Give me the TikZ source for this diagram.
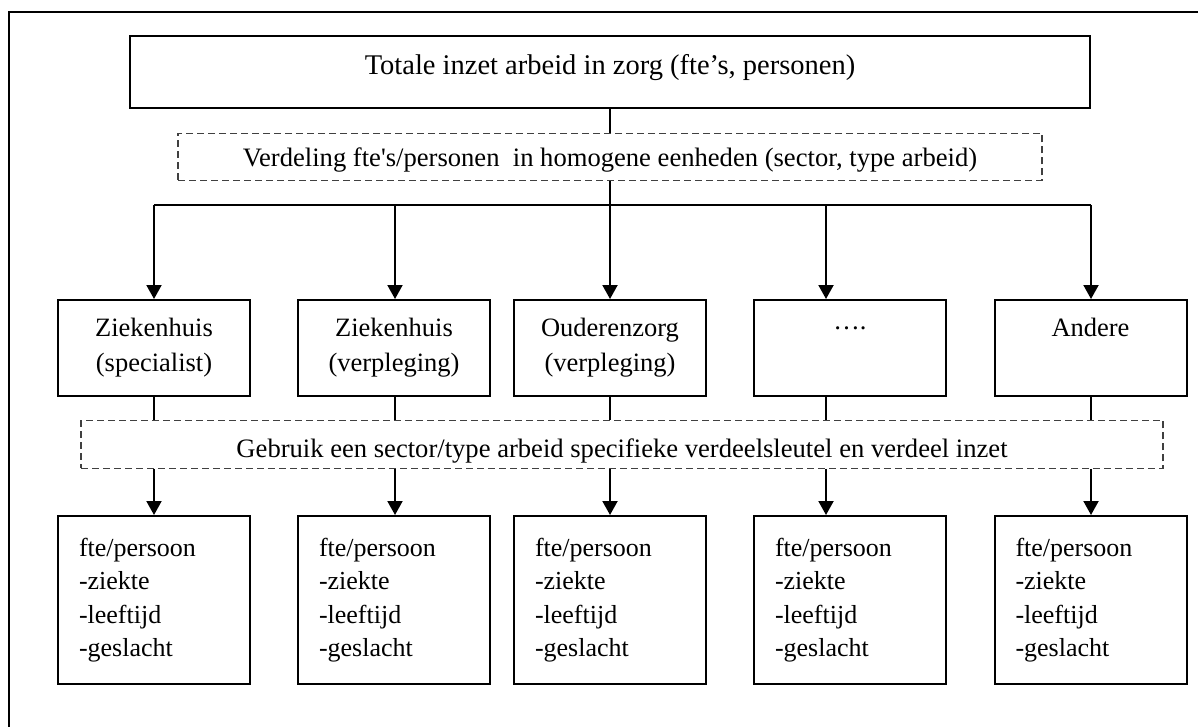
\documentclass[tikz,border=0pt]{standalone}
\usepackage{fontspec}
\setmainfont{Liberation Serif}
\usetikzlibrary{arrows.meta}
\begin{document}
\begin{tikzpicture}[x=1pt,y=-1pt,
  box/.style={draw, line width=2pt, inner sep=0pt, align=center},
  dbox/.style={draw=black!75, line width=1.3pt, dash pattern=on 7pt off 4pt, inner sep=0pt},
  arr/.style={line width=2pt, -{Triangle[width=15pt,length=14pt]}},
  conn/.style={line width=2pt},
  bar/.style={line width=2.5pt},
  midbox/.style={box, minimum width=192pt, minimum height=96pt, font=\fontsize{26.5}{35}\selectfont},
  lowbox/.style={box, minimum width=192pt, minimum height=168pt, font=\fontsize{26}{33.3}\selectfont, align=left, text width=150pt},
  frame/.style={line width=2pt}
]
\useasboundingbox (0,0) rectangle (1198,727);
% outer frame (cut by the page edges)
\draw[frame] (9,727) -- (9,12) -- (1198,12);

% top box and first dashed box
\node[box, minimum width=960pt, minimum height=72pt, font=\fontsize{28.5}{34}\selectfont] (top) at (610,72)
  {\raisebox{-3pt}[0pt][0pt]{Totale inzet arbeid in zorg (fte’s, personen)}};
\node[dbox, minimum width=864pt, minimum height=47pt, font=\fontsize{26.6}{30}\selectfont] (d1) at (610,156.8)
  {\raisebox{-10pt}[0pt][0pt]{Verdeling fte\textquotesingle s/personen\ \ in homogene eenheden (sector, type arbeid)}};

% branching points
\coordinate (b1) at (154,205);
\coordinate (b2) at (395,205);
\coordinate (b3) at (610,205);
\coordinate (b4) at (826,205);
\coordinate (b5) at (1091,205);

% middle boxes
\node[midbox] (m1) at (154,348) {Ziekenhuis\\(specialist)};
\node[midbox] (m2) at (394,348) {Ziekenhuis\\(verpleging)};
\node[midbox] (m3) at (610,348) {Ouderenzorg\\(verpleging)};
\node[midbox] (m4) at (850,348) {….\\\phantom{(g)}};
\node[midbox] (m5) at (1090.5,348) {Andere\\\phantom{(g)}};

% second dashed box
\node[dbox, minimum width=1082pt, minimum height=47.5pt, font=\fontsize{26.6}{30}\selectfont] (d2) at (622,444.5)
  {\raisebox{-12.5pt}[0pt][0pt]{Gebruik een sector/type arbeid specifieke verdeelsleutel en verdeel inzet}};

% bottom boxes
\node[lowbox] (l1) at (154,600) {fte/persoon\\-ziekte\\-leeftijd\\-geslacht};
\node[lowbox] (l2) at (394,600) {fte/persoon\\-ziekte\\-leeftijd\\-geslacht};
\node[lowbox] (l3) at (610,600) {fte/persoon\\-ziekte\\-leeftijd\\-geslacht};
\node[lowbox] (l4) at (850,600) {fte/persoon\\-ziekte\\-leeftijd\\-geslacht};
\node[lowbox] (l5) at (1090.5,600) {fte/persoon\\-ziekte\\-leeftijd\\-geslacht};

% connectors
\draw[conn] (top.south) -- (d1.north);
\draw[conn] (d1.south) -- (b3);
\draw[bar] (b1) -- (b5);
\foreach \i in {1,...,5}{
  \draw[arr] (b\i) -- (b\i |- m\i.north);
  \draw[conn] (b\i |- m\i.south) -- (b\i |- d2.north);
  \draw[arr] (b\i |- d2.south) -- (b\i |- l\i.north);
}
\end{tikzpicture}
\end{document}
